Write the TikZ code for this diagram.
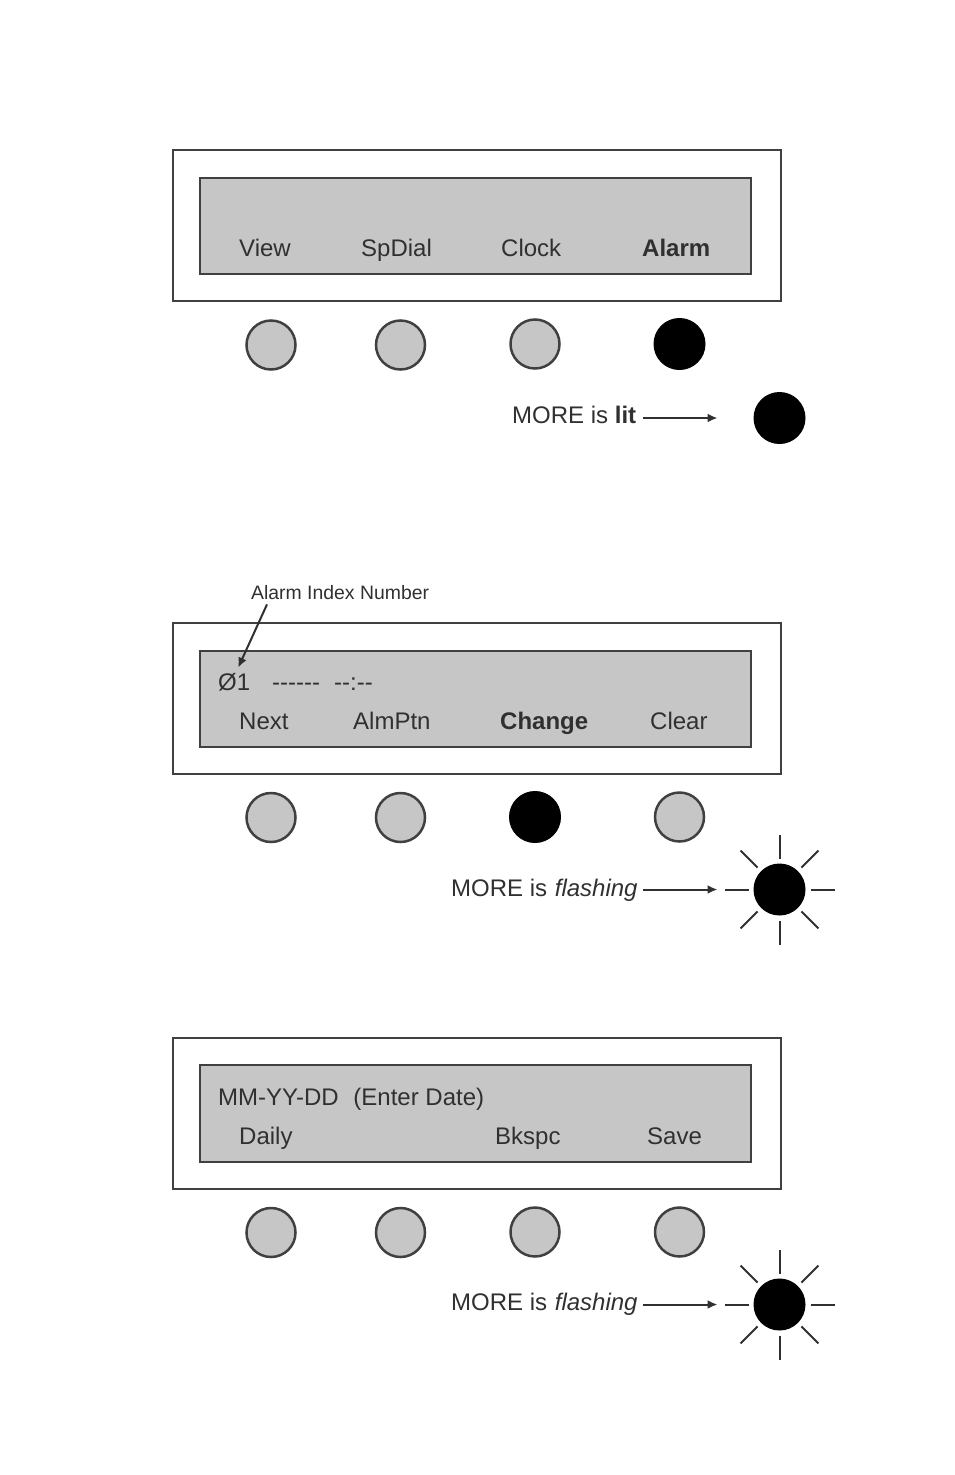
\documentclass[tikz,border=0pt]{standalone}
\usepackage{fontspec}
\setmainfont{Liberation Sans}[Ligatures=TeXOff]
\usepackage{xcolor}
\usetikzlibrary{arrows.meta}
\definecolor{panelgray}{RGB}{198, 198, 198}
\definecolor{edgegray}{RGB}{64, 64, 64}
\definecolor{inkgray}{RGB}{48, 48, 48}
\begin{document}
\begin{tikzpicture}[x=1pt, y=-1pt,
            frame/.style = {draw=edgegray, line width=1.8pt, fill=white},
           screen/.style = {draw=edgegray, line width=1.8pt, fill=panelgray},
           button/.style = {circle, draw=edgegray, line width=2.5pt, fill=panelgray, minimum size=49pt, inner sep=0pt},
            press/.style = {circle, draw=black, line width=1pt, fill=black, minimum size=51pt, inner sep=0pt},
            label/.style = {anchor=base west, inner sep=0pt, text=inkgray, font=\fontsize{24}{28}\selectfont},
            small/.style = {anchor=base west, inner sep=0pt, text=inkgray, font=\fontsize{19.4}{23}\selectfont},
          pointer/.style = {draw=inkgray, line width=2pt, -{Latex[length=10pt, width=9pt]}},
              ray/.style = {draw=inkgray, line width=2pt}]
        \useasboundingbox (0,0) rectangle (954,1475);
        % first panel
        \draw[frame] (173,150) rectangle (781,301);
        \draw[screen] (200,178) rectangle (751,274);
        \node[label] (view) at (239,256) {View};
        \node[label] (spdial) at (361,256) {SpDial};
        \node[label] (clock) at (501,256) {Clock};
        \node[label] (alarm) at (642,256) {\textbf{Alarm}};
        \node[button] (a1) at (271,345) {};
        \node[button] (a2) at (400.5,345) {};
        \node[button] (a3) at (535,344) {};
        \node[press] (a4) at (679.5,344) {};
        \node[label] (morelit) at (512,423) {MORE is \textbf{lit}};
        \node[press] (lampa) at (779.5,418) {};
        \draw[pointer] ([xshift=7pt]morelit.east |- lampa) -- ([xshift=-36pt]lampa.west);
        % second panel
        \draw[frame] (173,623) rectangle (781,774);
        \draw[screen] (200,651) rectangle (751,747);
        \node[small] (almindex) at (251,599) {Alarm Index Number};
        \node[label] (idxnum) at (218,690) {Ø1};
        \node[label] (idxdash) at (272,690) {------};
        \node[label] (idxtime) at (334,690) {--:--};
        \node[label] (next) at (239,729) {Next};
        \node[label] (almptn) at (353,729) {AlmPtn};
        \node[label] (change) at (500,729) {\textbf{Change}};
        \node[label] (clear) at (650,729) {Clear};
        \draw[pointer] ([xshift=16pt,yshift=-5pt]almindex.south west) -- ([xshift=4pt,yshift=5pt]idxnum.north);
        \node[button] (b1) at (271,817.5) {};
        \node[button] (b2) at (400.5,817.5) {};
        \node[press] (b3) at (535,817) {};
        \node[button] (b4) at (679.5,817) {};
        \node[label] (moreb) at (451,896) {MORE is\hspace{1pt} \textit{flashing}};
        \node[press] (lampb) at (779.5,889.5) {};
        \draw[pointer] ([xshift=5pt]moreb.east |- lampb) -- ([xshift=-36pt]lampb.west);
        \foreach \a in {0,45,...,315}
            \draw[ray] ([shift={(\a:31)}]lampb.center) -- ([shift={(\a:55)}]lampb.center);
        % third panel
        \draw[frame] (173,1038) rectangle (781,1189);
        \draw[screen] (200,1065) rectangle (751,1162);
        \node[label] (datefmt) at (218,1105) {MM-YY-DD\ \ \hspace{1.5pt}(Enter Date)};
        \node[label] (daily) at (239,1144) {Daily};
        \node[label] (bkspc) at (495,1144) {Bkspc};
        \node[label] (save) at (647,1144) {Save};
        \node[button] (c1) at (271,1232.5) {};
        \node[button] (c2) at (400.5,1232.5) {};
        \node[button] (c3) at (535,1232) {};
        \node[button] (c4) at (679.5,1232) {};
        \node[label] (morec) at (451,1310) {MORE is\hspace{1pt} \textit{flashing}};
        \node[press] (lampc) at (779.5,1304.5) {};
        \draw[pointer] ([xshift=5pt]morec.east |- lampc) -- ([xshift=-36pt]lampc.west);
        \foreach \a in {0,45,...,315}
            \draw[ray] ([shift={(\a:31)}]lampc.center) -- ([shift={(\a:55)}]lampc.center);
    \end{tikzpicture}
\end{document}
